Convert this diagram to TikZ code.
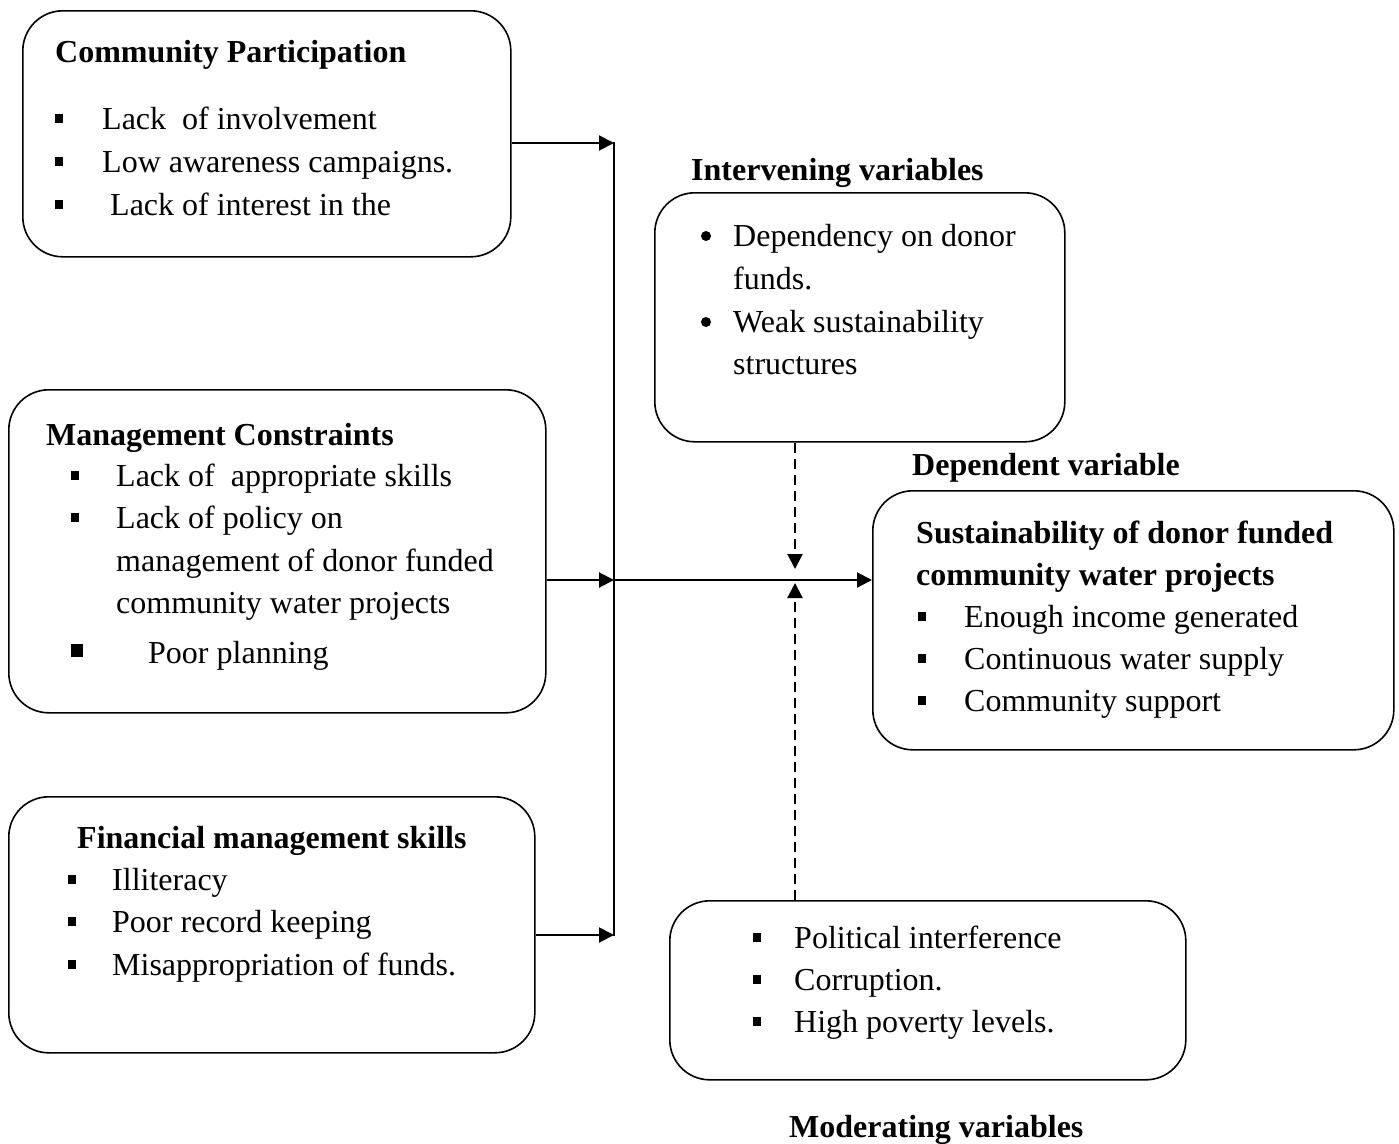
\documentclass[tikz,border=0pt]{standalone}
\usepackage{fontspec}
\setmainfont{Liberation Serif}
\usetikzlibrary{arrows.meta,calc}
\tikzset{
  box/.style={draw, line width=1.6pt, rounded corners=40pt, anchor=north west, inner sep=0pt},
  txt/.style={anchor=base west, inner sep=0pt, font=\fontsize{32}{38}\selectfont},
  ttl/.style={anchor=base west, inner sep=0pt, font=\fontsize{32}{38}\selectfont\bfseries},
  arr/.style={line width=2pt, -{Triangle[length=15pt,width=15pt]}},
  conn/.style={line width=2pt},
  dasharr/.style={line width=2pt, dash pattern=on 10pt off 6pt, -{Triangle[length=15pt,width=15pt]}},
}
\newcommand{\sqb}[3][8]{\fill (#2-#1/2,#3-#1/2-1) rectangle ++(#1,#1+1);}
\begin{document}
\begin{tikzpicture}[x=1pt,y=-1pt]
\useasboundingbox (0,0) rectangle (1399,1143);
% boxes
\node[box, minimum width=488pt, minimum height=246pt] (cp) at (22,10) {};
\node[box, minimum width=537pt, minimum height=323pt] (mc) at (8,389) {};
\node[box, minimum width=526pt, minimum height=256pt] (fm) at (8,796) {};
\node[box, minimum width=410pt, minimum height=249pt] (iv) at (654,192) {};
\node[box, minimum width=521pt, minimum height=259pt] (dv) at (872,490) {};
\node[box, minimum width=516pt, minimum height=179pt] (mv) at (669,900) {};

% Community participation
\node[ttl] (cpt) at (55,62) {Community Participation};
\sqb{59}{119}\node[txt] (cp1) at (102,129) {Lack\ \ of involvement};
\sqb{59}{162}\node[txt] (cp2) at (102,172) {Low awareness campaigns.};
\sqb{59}{205}\node[txt] (cp3) at (110,215) {Lack of interest in the};

% Management constraints
\node[ttl] (mct) at (46,445) {Management Constraints};
\sqb{75}{476}\node[txt] (mc1) at (116,486) {Lack of\ \ appropriate skills};
\sqb{75}{518}\node[txt] (mc2) at (116,528) {Lack of policy on};
\node[txt] (mc3) at (116,571) {management of donor funded};
\node[txt] (mc4) at (116,613) {community water projects};
\sqb[12]{77}{651}\node[txt] (mc5) at (148,663) {Poor planning};

% Financial management
\node[ttl] (fmt) at (77,848) {Financial management skills};
\sqb{72}{880}\node[txt] (fm1) at (112,890) {Illiteracy};
\sqb{72}{922}\node[txt] (fm2) at (112,932) {Poor record keeping};
\sqb{72}{965}\node[txt] (fm3) at (112,975) {Misappropriation of funds.};

% Intervening
\node[ttl] (ivl) at (691,180) {Intervening variables};
\fill (706,236) circle (5pt);\node[txt] (iv1) at (733,246) {Dependency on donor};
\node[txt] (iv2) at (733,289) {funds.};
\fill (706,322) circle (5pt);\node[txt] (iv3) at (733,332) {Weak sustainability};
\node[txt] (iv4) at (733,374) {structures};

% Dependent
\node[ttl] (dvl) at (912,475) {Dependent variable};
\node[ttl] (dvt1) at (916,543) {Sustainability of donor funded};
\node[ttl] (dvt2) at (916,585) {community water projects};
\sqb{922}{617}\node[txt] (dv1) at (964,627) {Enough income generated};
\sqb{922}{659}\node[txt] (dv2) at (964,669) {Continuous water supply};
\sqb{922}{701}\node[txt] (dv3) at (964,711) {Community support};

% Moderating
\sqb{757}{938}\node[txt] (mv1) at (794,948) {Political interference};
\sqb{757}{980}\node[txt] (mv2) at (794,990) {Corruption.};
\sqb{757}{1022}\node[txt] (mv3) at (794,1032) {High poverty levels.};
\node[ttl] (mvl) at (789,1137) {Moderating variables};

% connectors
\coordinate (j1) at (614,143);
\coordinate (j2) at (614,580);
\coordinate (j3) at (614,935);
\coordinate (mt) at (795,569);
\coordinate (mb) at (795,583);
\draw[arr] (cp.east |- j1) -- (j1);
\draw[arr] (mc.east |- j2) -- (j2);
\draw[arr] (fm.east |- j3) -- (j3);
\draw[conn] ($(j1)+(0,-1)$) -- ($(j3)+(0,1)$);
\draw[arr] (j2) -- (dv.west |- j2);
\draw[dasharr] (iv.south -| mt) -- (mt);
\draw[dasharr] (mv.north -| mb) -- (mb);
\end{tikzpicture}
\end{document}
